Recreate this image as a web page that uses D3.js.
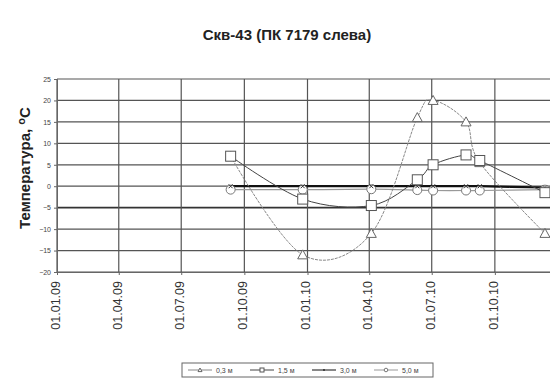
<!DOCTYPE html>
<html><head><meta charset="utf-8">
<script src="https://cdn.jsdelivr.net/npm/d3@7"></script>
<style>body{margin:0;background:#fff}svg{display:block}text{font-family:"Liberation Sans",Arial,sans-serif}</style>
</head><body><svg id="c" width="550" height="383"></svg>
<script>
const title = "Скв-43 (ПК 7179 слева)";
const xTickLabels = ["01.01.09","01.04.09","01.07.09","01.10.09","01.01.10","01.04.10","01.07.10","01.10.10"];
const yTicks = [25,20,15,10,5,0,-5,-10,-15,-20];
const dates = ["2009-09-11","2009-12-25","2010-04-04","2010-06-10","2010-07-03","2010-08-20","2010-09-09","2010-12-13"];
const s03 = [7, -16, -11, 16, 20, 15, 5.5, -11];
const s15 = [7, -3, -4.5, 1.5, 5, 7.3, 6, -1.5];
const s30 = [0, 0, 0, 0, 0, 0, 0, -0.3];
const s50 = [-0.8, -0.8, -0.7, -0.9, -1, -1, -1, -0.8];
const seriesNames = ["0,3 м","1,5 м","3,0 м","5,0 м"];

const parse = d3.timeParse("%Y-%m-%d");
const svg = d3.select("#c");
const x = d3.scaleTime().domain([parse("2009-01-01"), parse("2011-01-01")]).range([57, 558]);
const y = d3.scaleLinear().domain([-20, 25]).range([272, 79]);

svg.append("text").attr("x", 287).attr("y", 40).attr("text-anchor","middle")
  .attr("font-size", 15).attr("font-weight","bold").attr("fill","#222").text(title);
svg.append("text").attr("transform","translate(30,168) rotate(-90)").attr("text-anchor","middle")
  .attr("font-size", 15).attr("font-weight","bold").attr("fill","#222")
  .call(t => { t.append("tspan").text("Температура, "); t.append("tspan").attr("dy",-5).attr("font-size",11).text("o"); t.append("tspan").attr("dy",5).text("С"); });

const xTickDates = xTickLabels.map(s => d3.timeParse("%d.%m.%y")(s));
svg.append("g").selectAll("line").data(yTicks).join("line")
  .attr("x1", 57).attr("x2", 558).attr("y1", d => y(d)).attr("y2", d => y(d))
  .attr("stroke", d => d === -5 ? "#333" : "#555").attr("stroke-width", d => d === -5 ? 1.6 : 1.2);
svg.append("g").selectAll("line").data(xTickDates).join("line")
  .attr("x1", d => x(d)).attr("x2", d => x(d)).attr("y1", 79).attr("y2", 272)
  .attr("stroke", "#555").attr("stroke-width", 1.2);

const yAxis = d3.axisLeft(y).tickValues(yTicks).tickSize(3).tickFormat(d3.format("d"));
const gy = svg.append("g").attr("transform","translate(57,0)").call(yAxis);
gy.select(".domain").attr("stroke","#666");
gy.selectAll("line").attr("stroke","#666");
gy.selectAll("text").attr("font-size", 7).attr("fill","#444");

const xAxis = d3.axisBottom(x).tickValues(xTickDates).tickSize(3).tickFormat((d,i) => xTickLabels[i]);
const gx = svg.append("g").attr("transform","translate(0,272)").call(xAxis);
gx.select(".domain").attr("stroke","#666");
gx.selectAll("line").attr("stroke","#666");
gx.selectAll(".tick text").attr("font-size", 12.5).attr("fill","#333")
  .attr("text-anchor","end").attr("transform","rotate(-90)").attr("x", -9).attr("y", -2).attr("dy","0.35em");

const pts = arr => arr.map((v,i) => [parse(dates[i]), v]);
const line = d3.line().x(d => x(d[0])).y(d => y(d[1])).curve(d3.curveCardinal.tension(0));
const styles = [
  {data:s03, stroke:"#888", width:1, dash:"3,1", marker:"tri"},
  {data:s15, stroke:"#444", width:1, dash:null, marker:"sq"},
  {data:s30, stroke:"#111", width:2.2, dash:null, marker:"x"},
  {data:s50, stroke:"#999", width:1.2, dash:null, marker:"circ"}
];
const gL = svg.append("g");
styles.slice().reverse().forEach(s => {
  gL.append("path").attr("d", line(pts(s.data))).attr("fill","none")
    .attr("stroke", s.stroke).attr("stroke-width", s.width).attr("stroke-dasharray", s.dash);
});
function drawMarker(g, type, cx, cy, k) {
  if (type === "tri") g.append("path").attr("d", `M${cx},${cy-5*k}L${cx+5*k},${cy+4*k}L${cx-5*k},${cy+4*k}Z`).attr("fill","#fff").attr("stroke","#666");
  if (type === "sq") g.append("rect").attr("x", cx-5*k).attr("y", cy-5*k).attr("width", 10*k).attr("height", 10*k).attr("fill","#fff").attr("stroke","#555");
  if (type === "circ") g.append("circle").attr("cx", cx).attr("cy", cy).attr("r", 4.5*k).attr("fill","#fff").attr("stroke","#777");
  if (type === "x") g.append("path").attr("d", `M${cx-2*k},${cy-2*k}L${cx+2*k},${cy+2*k}M${cx+2*k},${cy-2*k}L${cx-2*k},${cy+2*k}`).attr("stroke","#333");
}
const gM = svg.append("g");
[3,0,2,1].forEach(si => {
  const s = styles[si];
  pts(s.data).forEach(p => drawMarker(gM, s.marker, x(p[0]), y(p[1]), 1));
});

const lg = svg.append("g").attr("transform","translate(182,363)");
lg.append("rect").attr("width", 251).attr("height", 14).attr("fill","#fff").attr("stroke","#666");
seriesNames.forEach((n,i) => {
  const gx0 = 6 + i*62;
  const s = styles[i];
  lg.append("line").attr("x1", gx0).attr("x2", gx0+24).attr("y1", 7).attr("y2", 7).attr("stroke", s.stroke).attr("stroke-width", 1);
  drawMarker(lg, s.marker, gx0+12, 7, 0.4);
  lg.append("text").attr("x", gx0+28).attr("y", 10).attr("font-size", 7).attr("fill","#444").text(n);
});
</script></body></html>
